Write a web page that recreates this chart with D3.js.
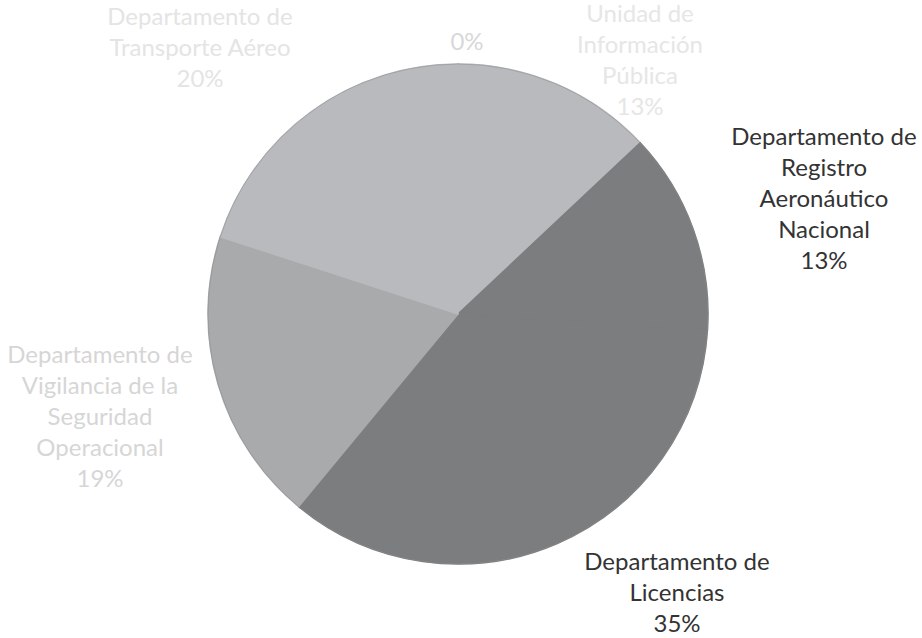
<!DOCTYPE html>
<html lang="es">
  <head>
    <style>
      body { margin: 0; background: #fff; }
      .labels text {
        font-family: Lato, "Open Sans", sans-serif;
        font-size: 24px;
        text-anchor: middle;
      }
    </style>
  </head>

  <body>
    <svg id="container" height="638" width="922">
      <g id="body" transform="translate(458,314)"></g>
    </svg>
  </body>
  <script src="https://d3js.org/d3.v7.min.js"></script>
  <script>
let categories = ["", "Unidad de Información Pública", "Departamento de Registro Aeronáutico Nacional",
    "Departamento de Licencias", "Departamento de Vigilancia de la Seguridad Operacional",
    "Departamento de Transporte Aéreo"]
let values = [0, 13, 13, 35, 19, 20]
let labelLines = [
    ["0%"],
    ["Unidad de", "Información", "Pública", "13%"],
    ["Departamento de", "Registro", "Aeronáutico", "Nacional", "13%"],
    ["Departamento de", "Licencias", "35%"],
    ["Departamento de", "Vigilancia de la", "Seguridad", "Operacional", "19%"],
    ["Departamento de", "Transporte Aéreo", "20%"]
]

// scanned greys, the top of the page is washed out
let fills = ["#b9babd", "#b9babd", "#7b7d7f", "#7b7d7f", "#a9aaac", "#b9babd"]
let textColors = ["#d8d8d8", "#e6e6e6", "#333333", "#333333", "#d6d6d6", "#e4e4e4"]
// first-line baseline of each label, relative to pie centre
let labelPos = [[9, -264], [182, -292], [366, -169], [219, 256], [-358, 49], [-258, -289]]

let body = d3.select("#body")
let radius = 250
let lineHeight = 31

let pie = d3.pie().sort(null).value((d) => d)
let arcs = pie(values)
let arc = d3.arc().innerRadius(0).outerRadius(radius)

body.append("g")
    .attr("class", "slices")
    .selectAll("path")
    .data(arcs)
    .enter()
    .append("path")
        .attr("d", arc)
        .attr("fill", (d, i) => fills[i])
        .attr("stroke", (d, i) => fills[i])
        .attr("stroke-width", 1.5)
        .attr("stroke-linejoin", "round")

body.append("circle")
    .attr("r", radius)
    .attr("fill", "none")
    .attr("stroke", "#8a8b8d")
    .attr("stroke-width", 1)
    .attr("opacity", 0.5)

let labels = body.append("g")
    .attr("class", "labels")
    .selectAll("text")
    .data(arcs)
    .enter()
    .append("text")
        .attr("fill", (d, i) => textColors[i])
        .attr("transform", (d, i) => "translate(" + labelPos[i][0] + "," + labelPos[i][1] + ")")

labels.selectAll("tspan")
    .data((d, i) => labelLines[i])
    .enter()
    .append("tspan")
        .attr("x", 0)
        .attr("y", (d, j) => j * lineHeight)
        .text((d) => d)
  </script>
</html>
